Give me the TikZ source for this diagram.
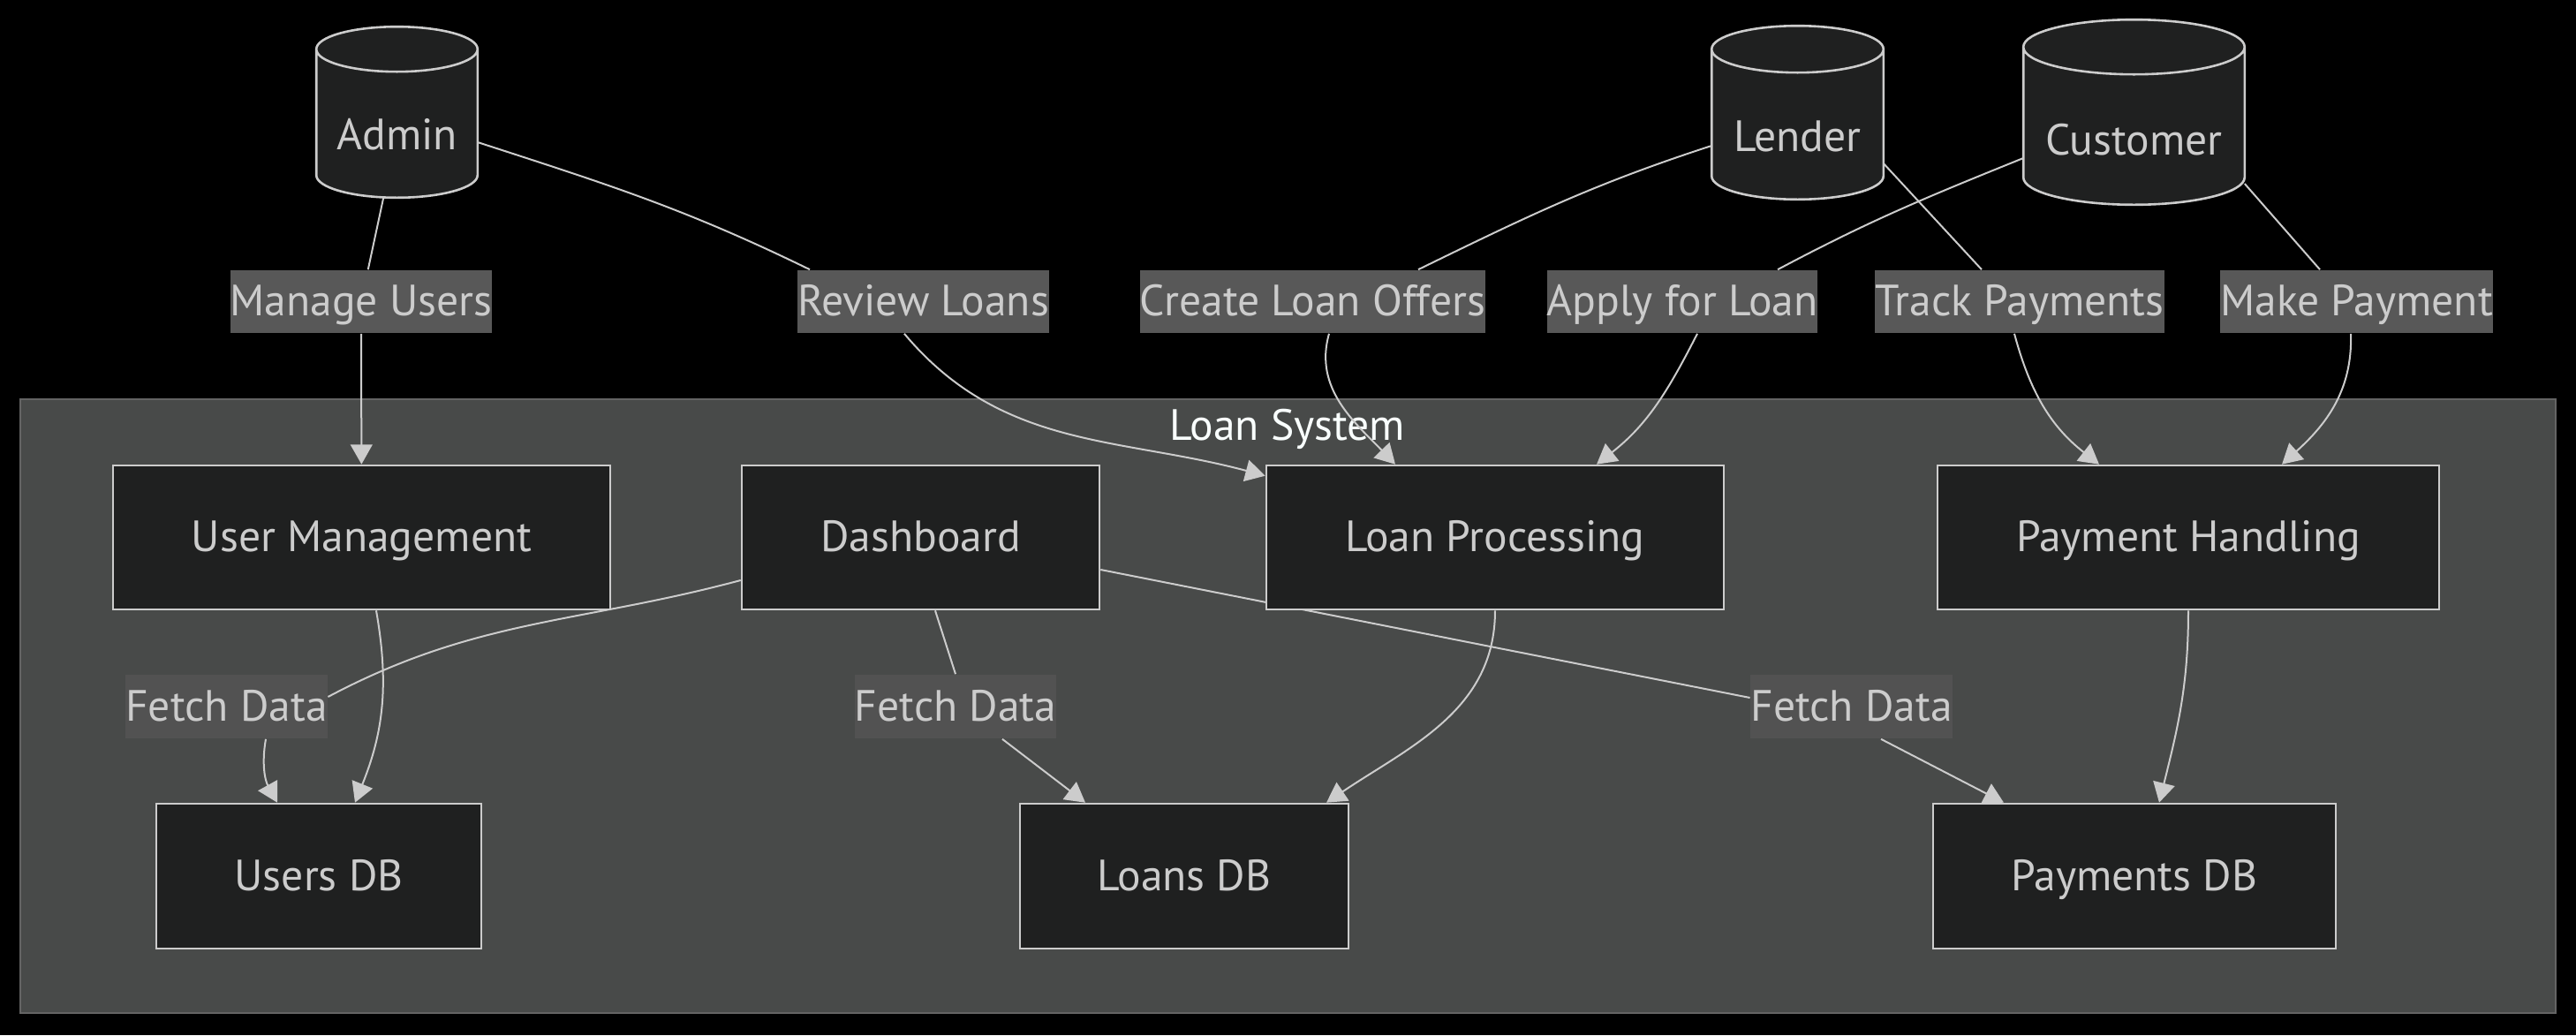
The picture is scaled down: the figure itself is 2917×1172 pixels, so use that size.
\documentclass[tikz,border=0pt]{standalone}
\usepackage{fontspec}
\setmainfont{PT Sans}
\usetikzlibrary{
  arrows.meta,
  backgrounds,
  calc,
  positioning
}
\definecolor{canvas}{RGB}{0,0,0}
\definecolor{clusterfill}{RGB}{72,74,73}
\definecolor{clusterline}{RGB}{100,100,100}
\definecolor{nodefill}{RGB}{31,32,32}
\definecolor{nodeline}{RGB}{204,204,204}
\definecolor{nodetext}{RGB}{204,204,204}
\definecolor{labelfill}{RGB}{88,88,88}
\definecolor{labelfillin}{RGB}{82,82,82}
\definecolor{titletext}{RGB}{249,255,254}
\pgfdeclarelayer{links}
\pgfsetlayers{background,links,main}
\tikzset{
  >={Triangle[length=5.6pt,width=6.2pt]},
  link/.style={line width=0.5pt,draw=nodeline},
  flow/.style={link,->},
  procbox/.style={
    draw=nodeline,
    fill=nodefill,
    text=nodetext,
    line width=0.65pt,
    inner sep=0pt,
    text height=10.6pt,
    text depth=2.4pt,
    minimum height=40.75pt
  },
  storebox/.style={procbox,minimum height=41pt},
  actor/.style={inner sep=0pt,text=nodetext},
  drum/.style={draw=nodeline,fill=nodefill,line width=0.65pt},
  edgelabel/.style={
    fill=labelfill,
    text=nodetext,
    inner sep=0pt,
    text height=10.6pt,
    text depth=2.4pt,
    minimum height=17.75pt
  },
  inner edgelabel/.style={edgelabel,fill=labelfillin,minimum height=18pt},
  cluster/.style={draw=clusterline,fill=clusterfill,line width=0.5pt,inner sep=0pt},
  clustertitle/.style={text=titletext,inner sep=0pt}
}
% cylinder outline round an actor node: #1 node, #2 cap radius
\newcommand\drawdrum[2]{%
  \draw[drum] let \p1=(#1.north west), \p2=(#1.south east),
      \n1={(\x2-\x1)/2} in
    (\x1,\y1+#2) -- (\x1,\y2+#2)
    arc[start angle=180,end angle=360,x radius=\n1,y radius=#2]
    -- (\x2,\y1+#2)
    arc[start angle=0,end angle=180,x radius=\n1,y radius=#2] -- cycle
    (\x1,\y1+#2) arc[start angle=180,end angle=360,x radius=\n1,y radius=#2];
}

\begin{document}
\begin{tikzpicture}[x=0.25pt,y=0.25pt,font=\fontsize{12.4}{14.8}\selectfont]
  \useasboundingbox (0,0) rectangle (2917,1172);
  \begin{scope}[on background layer]
    \fill[canvas] (0,0) rectangle (2917,1172);
    \node[cluster,minimum width=717.75pt,minimum height=173.75pt] (loansys) at (1458.5,372.5) {};
    \node[clustertitle] (loansystitle) at (1458,686) {Loan System};
  \end{scope}

  % actors
  \node[actor,minimum width=45.25pt,minimum height=35.25pt] (admin) at (449.5,1019.5) {Admin};
  \node[actor,minimum width=48.25pt,minimum height=35.5pt] (lender) at (2035.5,1018) {Lender};
  \node[actor,minimum width=62.25pt,minimum height=36.5pt] (customer) at (2416.5,1014) {Customer};
  \begin{scope}[on background layer]
    \drawdrum{admin}{6.375pt}
    \drawdrum{lender}{6.625pt}
    \drawdrum{customer}{7.75pt}
  \end{scope}

  \node[procbox,minimum width=140.75pt] (usermgmt) at (409.5,563.5) {User Management};
  \node[procbox,minimum width=101.25pt] (dashboard) at (1042.5,563.5) {Dashboard};
  \node[procbox,minimum width=129.5pt] (loanproc) at (1693,563.5) {Loan Processing};
  \node[procbox,minimum width=142pt] (payhandle) at (2478,563.5) {Payment Handling};
  \node[storebox,minimum width=92pt] (usersdb) at (361,180) {Users DB};
  \node[storebox,minimum width=93pt] (loansdb) at (1341,180) {Loans DB};
  \node[storebox,minimum width=114pt] (paydb) at (2417,180) {Payments DB};

  \node[edgelabel] (manageusers) at (409,830.5) {Manage Users};
  \node[edgelabel] (reviewloans) at (1045.5,830.5) {Review Loans};
  \node[edgelabel] (createoffers) at (1486.5,830.5) {Create Loan Offers};
  \node[edgelabel] (applyloan) at (1905,830.5) {Apply for Loan};
  \node[edgelabel] (trackpay) at (2287,830.5) {Track Payments};
  \node[edgelabel] (makepay) at (2668.5,830.5) {Make Payment};
  \node[inner edgelabel] (fetchusers) at (256.5,372) {Fetch Data};
  \node[inner edgelabel] (fetchloans) at (1082,372) {Fetch Data};
  \node[inner edgelabel] (fetchpay) at (2096.5,372) {Fetch Data};

  \begin{pgfonlayer}{links}
    \draw[link] (admin) -- (manageusers);
    \draw[flow] (manageusers) -- (usermgmt);
    \draw[link] ($(admin.east)+(0,-8.5)$) to[out=-18,in=154] ($(reviewloans.north)+(-128.5,0)$);
    \draw[flow] ($(reviewloans.south)+(-21.5,0)$) to[out=-50,in=165] ($(loanproc.north west)+(0,-13)$);
    \draw[link] ($(lender.west)+(0,-11)$) to[out=198,in=26] ($(createoffers.north)+(119.5,0)$);
    \draw[flow] ($(createoffers.south)+(18.5,0)$) to[out=-106,in=134] ($(loanproc.north)+(-113,0)$);
    \draw[link] ($(customer.west)+(0,-21)$) to[out=202,in=28] ($(applyloan.north)+(108,0)$);
    \draw[flow] ($(applyloan.south)+(17,0)$) to[out=-117,in=38] ($(loanproc.north)+(115,0)$);
    \draw[link] ($(lender.east)+(0,-31)$) -- ($(trackpay.north)+(-43,0)$);
    \draw[flow] ($(trackpay.south)+(-6,0)$) to[out=-75,in=142] ($(payhandle.north)+(-101,0)$);
    \draw[link] ($(customer.east)+(0,-50)$) -- ($(makepay.north)+(-41.5,0)$);
    \draw[flow] ($(makepay.south)+(-6.5,0)$) to[out=-88,in=42] ($(payhandle.north)+(106,0)$);

    \draw[flow] ($(usermgmt.south)+(16.5,0)$) to[out=-80,in=68] ($(usersdb.north)+(41,0)$);
    \draw[link] ($(dashboard.west)+(0,-48.5)$) to[out=195,in=28] ($(fetchusers.east)+(0,11)$);
    \draw[flow] ($(fetchusers.south)+(44.5,0)$) to[out=-100,in=119] ($(usersdb.north)+(-47,0)$);
    \draw[link] ($(dashboard.south)+(16.5,0)$) -- (fetchloans.north);
    \draw[flow] ($(fetchloans.south)+(53,0)$) -- ($(loansdb.north)+(-112,0)$);
    \draw[link] ($(dashboard.east)+(0,-36.5)$) -- ($(fetchpay.west)+(0,10)$);
    \draw[flow] ($(fetchpay.south)+(33.5,0)$) -- ($(paydb.north)+(-148,0)$);
    \draw[flow] (payhandle.south) to[out=-90,in=76] ($(paydb.north)+(28,0)$);
    \draw[flow] (loanproc.south) to[out=-90,in=34] ($(loansdb.north)+(161,0)$);
  \end{pgfonlayer}
\end{tikzpicture}
\end{document}
